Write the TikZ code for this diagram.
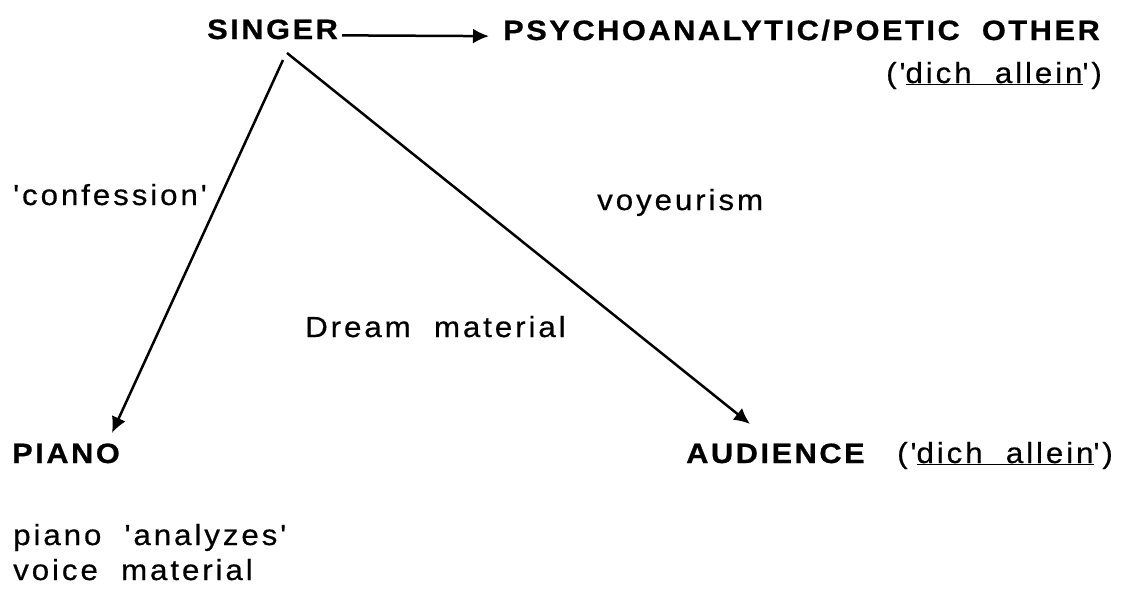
\documentclass[tikz,border=0pt]{standalone}
\usepackage{fontspec}
\setmainfont{Liberation Sans}
\usetikzlibrary{arrows.meta,calc}
\newfontfamily\regfont[LetterSpace=10,FakeStretch=1.08,FakeBold=0.5]{Liberation Sans}
\newfontfamily\boldfont[LetterSpace=9,FakeStretch=1.1,FakeBold=0.7]{Liberation Sans Bold}
\tikzset{
  bold/.style={anchor=base west,inner sep=0pt,font=\boldfont\fontsize{28}{32}\selectfont},
  plain/.style={anchor=base west,inner sep=0pt,font=\regfont\fontsize{29}{34}\selectfont},
  conn/.style={line width=2.5pt,-{Latex[length=16pt,width=15pt]}}
}
\begin{document}
\begin{tikzpicture}[x=1pt,y=-1pt]
\useasboundingbox (0,0) rectangle (1121,589);
\node[bold] (singer) at (207,39) {SINGER};
\node[bold] (other) at (503,40) {PSYCHOANALYTIC/POETIC\ \ OTHER};
\node[plain] (dich1) at (886,83) {('\underline{dich\ \ allein}')};
\node[plain] (conf) at (13,205) {'confession'};
\node[plain] (voy) at (597,210) {voyeurism};
\node[plain] (dream) at (305,337) {Dream\ \ material};
\node[bold] (piano) at (12,463) {PIANO};
\node[bold] (aud) at (686,463) {AUDIENCE};
\node[plain] (dich2) at (897,463) {('\underline{dich\ \ allein}')};
\node[plain] (anal) at (13,545) {piano\ \ 'analyzes'};
\node[plain] (voice) at (13,580) {voice\ \ material};
\coordinate (s1) at (283,60);
\coordinate (s2) at (287,53);
\coordinate (p1) at (112,433);
\coordinate (a1) at (750,424);
\draw[conn] ($(singer.east)+(4,6)$) -- ($(other.west)+(-14,6)$);
\draw[conn] (s1) -- (p1);
\draw[conn] (s2) -- (a1);
\end{tikzpicture}
\end{document}
